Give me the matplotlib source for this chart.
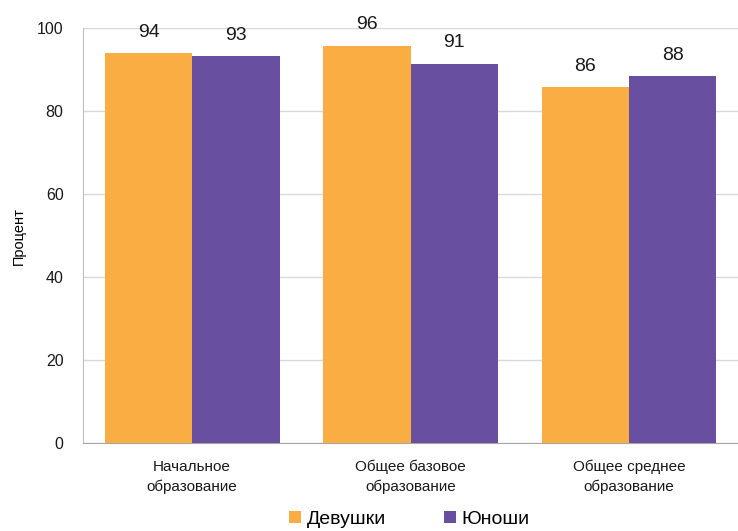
import numpy as np
import matplotlib.pyplot as plt

categories = ["Начальное\nобразование", "Общее базовое\nобразование", "Общее среднее\nобразование"]
girls = [93.9, 95.8, 85.8]
boys = [93.2, 91.4, 88.4]
series_names = ["Девушки", "Юноши"]
yticks = [0, 20, 40, 60, 80, 100]

plt.rcParams['font.family'] = ['Liberation Sans', 'DejaVu Sans']

fig = plt.figure(figsize=(7.38, 5.31), dpi=100)
ax = fig.add_axes([0.1125, 0.165, 0.8875, 0.782])

x = np.arange(len(categories))
w = 0.4
orange = "#FAAD42"
purple = "#684FA0"
b1 = ax.bar(x - w / 2, girls, w, color=orange, label=series_names[0], zorder=3)
b2 = ax.bar(x + w / 2, boys, w, color=purple, label=series_names[1], zorder=3)

for bars in (b1, b2):
    for r in bars:
        ax.annotate("%.0f" % r.get_height(), (r.get_x() + r.get_width() / 2, r.get_height()),
                    xytext=(0, 9), textcoords="offset points", ha="center", va="bottom",
                    fontsize=14, color="#1a1a1a")

ax.set_xlim(-0.5, 2.5)
ax.set_ylim(0, 100)
ax.set_yticks(yticks)
ax.set_xticks(x)
ax.set_xticklabels(categories, fontsize=11, color="#1a1a1a", linespacing=1.45)
ax.tick_params(axis="y", labelsize=11.5, length=0, pad=14, colors="#1a1a1a")
ax.tick_params(axis="x", length=0, pad=12)
ax.grid(axis="y", color="#d9d9d9", linewidth=1, zorder=0)
for s in ("top", "right"):
    ax.spines[s].set_visible(False)
ax.spines["left"].set_color("#bfbfbf")
ax.spines["bottom"].set_color("#a6a6a6")
ax.set_ylabel("Процент", fontsize=10.5, labelpad=8)

fig.legend(loc="center", bbox_to_anchor=(0.555, 0.022), ncol=2, frameon=False,
           fontsize=14, handlelength=0.6, handleheight=0.6, handletextpad=0.3,
           columnspacing=3.0)

fig.savefig("out.png", dpi=100)
